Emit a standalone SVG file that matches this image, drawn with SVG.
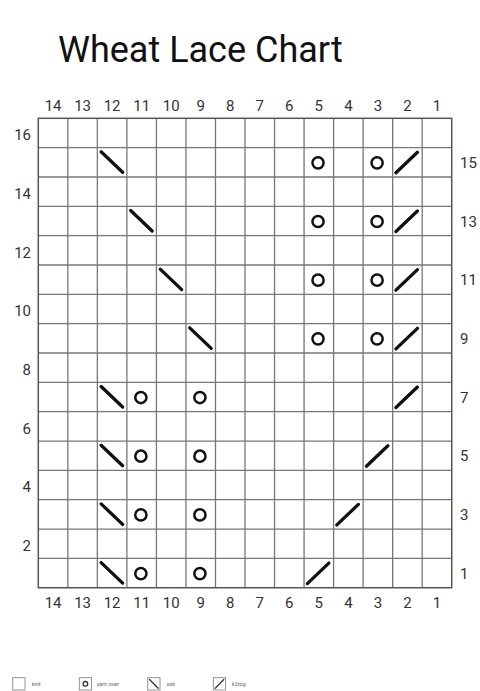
<svg xmlns="http://www.w3.org/2000/svg" xmlns:xlink="http://www.w3.org/1999/xlink" width="480" height="691" viewBox="0 0 480 691">
<style>
.title{font-family:Roboto,"Liberation Sans",sans-serif;font-size:36px;fill:#111}
.num{font-family:Roboto,"Liberation Sans",sans-serif;font-size:15px;fill:#333}
.mid{text-anchor:middle}
.end{text-anchor:end}
.grid{fill:none;stroke:#777;stroke-width:1.3}
.border{fill:none;stroke:#555;stroke-width:1.5}
.sym{fill:none;stroke:#111;stroke-width:3.3;stroke-linecap:round}
.yo{fill:none;stroke:#111;stroke-width:2.5}
.leg{font-family:Roboto,"Liberation Sans",sans-serif;font-size:5.5px;fill:#666}
.lbox{fill:none;stroke:#888;stroke-width:0.9}
.lsym{fill:none;stroke:#333;stroke-width:1.3;stroke-linecap:round}
</style>
<defs>
<g id="ssk"><line class="sym" x1="-11" y1="-10.5" x2="10.5" y2="10"/></g>
<g id="k2tog"><line class="sym" x1="-11.5" y1="10.5" x2="10" y2="-10"/></g>
<g id="yo"><circle class="yo" cx="-0.8" cy="0.5" r="5.6"/></g>
</defs>
<rect width="480" height="691" fill="#fff"/>
<g id="title"><text class="title" x="58" y="62">Wheat Lace Chart</text></g>

<g id="grid">
<path class="grid" d="M67.83 118.3V587.74M97.36 118.3V587.74M126.89 118.3V587.74M156.42 118.3V587.74M185.95 118.3V587.74M215.48 118.3V587.74M245.01 118.3V587.74M274.54 118.3V587.74M304.07 118.3V587.74M333.6 118.3V587.74M363.13 118.3V587.74M392.66 118.3V587.74M422.19 118.3V587.74
M38.3 147.64H451.72M38.3 176.98H451.72M38.3 206.32H451.72M38.3 235.66H451.72M38.3 265H451.72M38.3 294.34H451.72M38.3 323.68H451.72M38.3 353.02H451.72M38.3 382.36H451.72M38.3 411.7H451.72M38.3 441.04H451.72M38.3 470.38H451.72M38.3 499.72H451.72M38.3 529.06H451.72M38.3 558.4H451.72"/>
<rect class="border" x="38.3" y="118.3" width="413.42" height="469.44"/>
</g>

<g id="col-labels-top">
<text class="num mid" x="53.07" y="110.7">14</text><text class="num mid" x="82.6" y="110.7">13</text><text class="num mid" x="112.13" y="110.7">12</text><text class="num mid" x="141.66" y="110.7">11</text><text class="num mid" x="171.19" y="110.7">10</text><text class="num mid" x="200.72" y="110.7">9</text><text class="num mid" x="230.25" y="110.7">8</text><text class="num mid" x="259.78" y="110.7">7</text><text class="num mid" x="289.31" y="110.7">6</text><text class="num mid" x="318.84" y="110.7">5</text><text class="num mid" x="348.37" y="110.7">4</text><text class="num mid" x="377.9" y="110.7">3</text><text class="num mid" x="407.43" y="110.7">2</text><text class="num mid" x="436.96" y="110.7">1</text>
</g>
<g id="col-labels-bottom">
<text class="num mid" x="53.07" y="608.3">14</text><text class="num mid" x="82.6" y="608.3">13</text><text class="num mid" x="112.13" y="608.3">12</text><text class="num mid" x="141.66" y="608.3">11</text><text class="num mid" x="171.19" y="608.3">10</text><text class="num mid" x="200.72" y="608.3">9</text><text class="num mid" x="230.25" y="608.3">8</text><text class="num mid" x="259.78" y="608.3">7</text><text class="num mid" x="289.31" y="608.3">6</text><text class="num mid" x="318.84" y="608.3">5</text><text class="num mid" x="348.37" y="608.3">4</text><text class="num mid" x="377.9" y="608.3">3</text><text class="num mid" x="407.43" y="608.3">2</text><text class="num mid" x="436.96" y="608.3">1</text>
</g>
<g id="row-labels-left">
<text class="num end" x="31" y="140.3">16</text><text class="num end" x="31" y="198.9">14</text><text class="num end" x="31" y="257.6">12</text><text class="num end" x="31" y="316.3">10</text><text class="num end" x="31" y="375">8</text><text class="num end" x="31" y="433.7">6</text><text class="num end" x="31" y="492.4">4</text><text class="num end" x="31" y="551">2</text>
</g>
<g id="row-labels-right">
<text class="num" x="460" y="168">15</text><text class="num" x="460" y="226.7">13</text><text class="num" x="460" y="285.4">11</text><text class="num" x="460" y="344">9</text><text class="num" x="460" y="402.7">7</text><text class="num" x="460" y="461.4">5</text><text class="num" x="460" y="520.1">3</text><text class="num" x="460" y="578.8">1</text>
</g>

<g id="row15"><use xlink:href="#ssk" x="112.13" y="162.31"/><use xlink:href="#yo" x="318.84" y="162.31"/><use xlink:href="#yo" x="377.9" y="162.31"/><use xlink:href="#k2tog" x="407.43" y="162.31"/></g>
<g id="row13"><use xlink:href="#ssk" x="141.66" y="220.99"/><use xlink:href="#yo" x="318.84" y="220.99"/><use xlink:href="#yo" x="377.9" y="220.99"/><use xlink:href="#k2tog" x="407.43" y="220.99"/></g>
<g id="row11"><use xlink:href="#ssk" x="171.19" y="279.67"/><use xlink:href="#yo" x="318.84" y="279.67"/><use xlink:href="#yo" x="377.9" y="279.67"/><use xlink:href="#k2tog" x="407.43" y="279.67"/></g>
<g id="row9"><use xlink:href="#ssk" x="200.72" y="338.35"/><use xlink:href="#yo" x="318.84" y="338.35"/><use xlink:href="#yo" x="377.9" y="338.35"/><use xlink:href="#k2tog" x="407.43" y="338.35"/></g>
<g id="row7"><use xlink:href="#ssk" x="112.13" y="397.03"/><use xlink:href="#yo" x="141.66" y="397.03"/><use xlink:href="#yo" x="200.72" y="397.03"/><use xlink:href="#k2tog" x="407.43" y="397.03"/></g>
<g id="row5"><use xlink:href="#ssk" x="112.13" y="455.71"/><use xlink:href="#yo" x="141.66" y="455.71"/><use xlink:href="#yo" x="200.72" y="455.71"/><use xlink:href="#k2tog" x="377.9" y="455.71"/></g>
<g id="row3"><use xlink:href="#ssk" x="112.13" y="514.39"/><use xlink:href="#yo" x="141.66" y="514.39"/><use xlink:href="#yo" x="200.72" y="514.39"/><use xlink:href="#k2tog" x="348.37" y="514.39"/></g>
<g id="row1"><use xlink:href="#ssk" x="112.13" y="573.07"/><use xlink:href="#yo" x="141.66" y="573.07"/><use xlink:href="#yo" x="200.72" y="573.07"/><use xlink:href="#k2tog" x="318.84" y="573.07"/></g>

<g id="legend">
<g id="legend-knit"><rect class="lbox" x="12.7" y="677.7" width="12.3" height="12.3"/><text class="leg" x="31.7" y="686">knit</text></g>
<g id="legend-yo"><rect class="lbox" x="79.3" y="677.7" width="12.3" height="12.3"/><circle class="lsym" cx="85.4" cy="683.8" r="2.3"/><text class="leg" x="96.7" y="686">yarn over</text></g>
<g id="legend-ssk"><rect class="lbox" x="147.7" y="677.7" width="12.3" height="12.3"/><line class="lsym" x1="149.5" y1="679.5" x2="158.2" y2="688.2"/><text class="leg" x="166.7" y="686">ssk</text></g>
<g id="legend-k2tog"><rect class="lbox" x="213.3" y="677.7" width="12.3" height="12.3"/><line class="lsym" x1="215.3" y1="688.2" x2="223.8" y2="679.5"/><text class="leg" x="231.7" y="686">k2tog</text></g>
</g>
</svg>
